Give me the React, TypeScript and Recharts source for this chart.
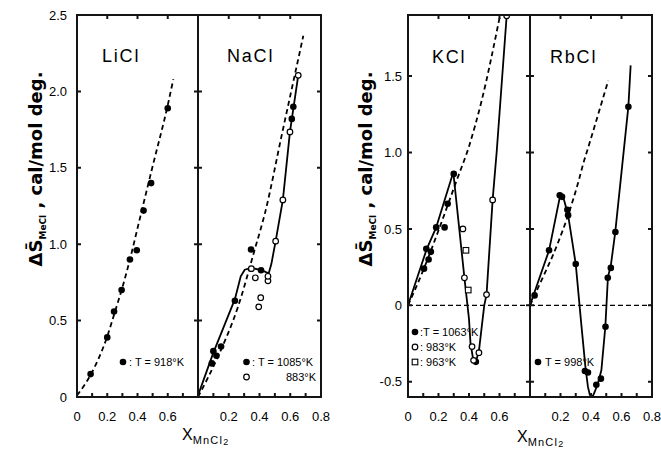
import React from 'react';
import { ComposedChart, Line, Scatter, XAxis, YAxis, ReferenceLine } from 'recharts';

type Pt = { x: number; y: number };
const pts = (a: number[][]): Pt[] => a.map(([x, y]) => ({ x, y }));

// axis ticks
const X_TICKS = [0, 0.1, 0.2, 0.3, 0.4, 0.5, 0.6, 0.7, 0.8];
const TOP_TICKS = [0.2, 0.4, 0.6];
const LEFT_Y_TICKS = [0, 0.5, 1, 1.5, 2, 2.5];
const RIGHT_Y_TICKS = [-0.5, 0, 0.5, 1, 1.5];
const FIRST_X_LABELS = [0, 0.2, 0.4, 0.6];
const SECOND_X_LABELS = [0.2, 0.4, 0.6, 0.8];

// LiCl, T = 918 K
const liclPoints = pts([[0.09, 0.15], [0.2, 0.39], [0.245, 0.56], [0.295, 0.7], [0.35, 0.9], [0.395, 0.96], [0.44, 1.22], [0.49, 1.4], [0.6, 1.89]]);
const liclDash = pts([[0, 0.01], [0.09, 0.145], [0.196, 0.385], [0.25, 0.555], [0.295, 0.7], [0.35, 0.9], [0.405, 1.125], [0.5, 1.51], [0.6, 1.91], [0.637, 2.08]]);

// NaCl, T = 1085 K (filled) and 883 K (open)
const naclFilled = pts([[0.09, 0.22], [0.1, 0.3], [0.12, 0.27], [0.15, 0.33], [0.24, 0.63], [0.345, 0.965], [0.41, 0.83], [0.61, 1.82], [0.62, 1.9]]);
const naclOpen = pts([[0.347, 0.84], [0.373, 0.78], [0.395, 0.59], [0.408, 0.65], [0.455, 0.76], [0.455, 0.79], [0.505, 1.02], [0.552, 1.29], [0.598, 1.735], [0.652, 2.105]]);
const naclSolid = pts([[0, 0.01], [0.1, 0.29], [0.24, 0.64], [0.278, 0.79], [0.304, 0.833], [0.347, 0.845], [0.412, 0.83], [0.46, 0.81], [0.477, 0.87], [0.505, 1.02], [0.552, 1.29], [0.598, 1.735], [0.652, 2.105]]);
const naclDash = pts([[0, 0], [0.13, 0.265], [0.26, 0.59], [0.369, 0.965], [0.436, 1.205], [0.548, 1.73], [0.685, 2.364]]);

// KCl, T = 1063 K (filled), 983 K (open), 963 K (square)
const kclFilled = pts([[0.105, 0.24], [0.12, 0.37], [0.135, 0.3], [0.15, 0.35], [0.185, 0.51], [0.24, 0.51], [0.26, 0.665], [0.3, 0.86], [0.445, -0.37]]);
const kclOpen = pts([[0.36, 0.5], [0.37, 0.18], [0.42, -0.27], [0.43, -0.36], [0.465, -0.31], [0.515, 0.07], [0.555, 0.69], [0.647, 1.895]]);
const kclSquare = pts([[0.38, 0.36], [0.395, 0.1]]);
const kclSolid = pts([[0, 0], [0.122, 0.366], [0.184, 0.508], [0.297, 0.871], [0.37, 0.18], [0.4, -0.09], [0.41, -0.25], [0.425, -0.34], [0.445, -0.37], [0.465, -0.3], [0.48, -0.17], [0.5, 0], [0.515, 0.07], [0.555, 0.69], [0.582, 1.01], [0.647, 1.895]]);
const kclDash = pts([[0, 0], [0.1, 0.23], [0.2, 0.49], [0.264, 0.665], [0.32, 0.82], [0.4, 1.04], [0.483, 1.34], [0.603, 1.895]]);

// RbCl, T = 998 K
const rbclFilled = pts([[0.03, 0.065], [0.125, 0.36], [0.195, 0.72], [0.21, 0.71], [0.245, 0.625], [0.25, 0.59], [0.3, 0.27], [0.36, -0.43], [0.38, -0.44], [0.435, -0.52], [0.465, -0.48], [0.495, -0.14], [0.51, 0.18], [0.53, 0.245], [0.56, 0.48], [0.645, 1.3]]);
const rbclSolid = pts([[0, 0], [0.125, 0.36], [0.2, 0.73], [0.215, 0.72], [0.25, 0.59], [0.3, 0.27], [0.336, -0.12], [0.363, -0.4], [0.38, -0.534], [0.392, -0.585], [0.402, -0.6], [0.414, -0.59], [0.424, -0.567], [0.446, -0.51], [0.468, -0.425], [0.494, -0.14], [0.511, 0.185], [0.53, 0.26], [0.559, 0.479], [0.645, 1.3], [0.66, 1.57]]);
const rbclDash = pts([[0, 0], [0.06, 0.13], [0.18, 0.4], [0.25, 0.59], [0.315, 0.8], [0.35, 0.93], [0.39, 1.06], [0.45, 1.26], [0.513, 1.47]]);

const INK = '#000';
const FRAME_INK = '#141414';
const SANS = '"Liberation Sans", Arial, sans-serif';
const TICK_LEN = 4;
const PLOT_TOP = 15;
const PLOT_BOTTOM = 397;
const X_MAX = 0.8;

const filledDot = (p: any) => <circle cx={p.cx} cy={p.cy} r={3.3} fill={INK} />;
const openDot = (p: any) => <circle cx={p.cx} cy={p.cy} r={2.8} fill="#fff" stroke={INK} strokeWidth={1.2} />;
const openSquare = (p: any) => (
  <rect x={p.cx - 2.8} y={p.cy - 2.8} width={5.6} height={5.6} fill="#fff" stroke={INK} strokeWidth={1.1} />
);

const fmtNum = (v: number) => (v === 0 ? '0' : v.toFixed(1));

interface PanelProps {
  left: number;
  width: number;
  ml: number;
  mr: number;
  yWidth: number;
  yDomain: [number, number];
  yTicks: number[];
  yLabels: boolean;
  yGap: number;
  xLabels: number[];
  zero?: boolean;
  dash: Pt[];
  solid?: Pt[];
  filled: Pt[];
  open?: Pt[];
  square?: Pt[];
}

function Panel(props: PanelProps) {
  const { left, width, ml, mr, yWidth, yDomain, yTicks, yLabels, yGap, xLabels, zero, dash, solid, filled, open, square } = props;
  const frame = { stroke: FRAME_INK, strokeWidth: 2 };

  const xTick = (p: any) => {
    const v = p.payload.value;
    const show = xLabels.some(l => Math.abs(l - v) < 1e-6);
    return show ? (
      <text x={p.x} y={p.y + 24} textAnchor="middle" fontFamily={SANS} fontSize={13} fill={INK}>
        {fmtNum(v)}
      </text>
    ) : <g />;
  };

  return (
    <div style={{ position: 'absolute', left, top: 0 }}>
      <ComposedChart width={width} height={451} margin={{ top: PLOT_TOP, right: mr, bottom: 24, left: ml }}>
        <XAxis dataKey="x" type="number" domain={[0, X_MAX]} ticks={X_TICKS} interval={0} allowDataOverflow
          height={30} tickSize={0} tickMargin={0} tick={xTick} axisLine={frame} tickLine={false} />
        <YAxis dataKey="y" type="number" domain={yDomain} ticks={yTicks} interval={0} allowDataOverflow
          width={yWidth} tickSize={0} tickMargin={yGap} tickFormatter={fmtNum}
          tick={yLabels ? { fontSize: 13, fill: INK, fontFamily: SANS } : false}
          axisLine={frame} tickLine={false} />
        {zero && <ReferenceLine y={0} stroke={INK} strokeWidth={1.2} strokeDasharray="5 3" />}
        <Line data={dash} dataKey="y" type="monotone" stroke={INK} strokeWidth={1.8}
          strokeDasharray="5 3.5" dot={false} activeDot={false} isAnimationActive={false} />
        {solid && (
          <Line data={solid} dataKey="y" type="linear" stroke={INK} strokeWidth={1.8}
            dot={false} activeDot={false} isAnimationActive={false} />
        )}
        <Scatter data={filled} dataKey="y" shape={filledDot} isAnimationActive={false} />
        {open && <Scatter data={open} dataKey="y" shape={openDot} isAnimationActive={false} />}
        {square && <Scatter data={square} dataKey="y" shape={openSquare} isAnimationActive={false} />}
      </ComposedChart>
    </div>
  );
}

// box round a panel with inward ticks, one path, same plot rectangle as the chart
function Frame({ l, r, yDomain, yTicks }: { l: number; r: number; yDomain: [number, number]; yTicks: number[] }) {
  const sx = (v: number) => l + (v / X_MAX) * (r - l);
  const sy = (v: number) =>
    PLOT_BOTTOM - ((v - yDomain[0]) / (yDomain[1] - yDomain[0])) * (PLOT_BOTTOM - PLOT_TOP);
  let d = `M${l},${PLOT_TOP}H${r}V${PLOT_BOTTOM}H${l}Z`;
  TOP_TICKS.forEach(t => { d += `M${sx(t)},${PLOT_TOP}v${TICK_LEN}`; });
  X_TICKS.forEach(t => { d += `M${sx(t)},${PLOT_BOTTOM}v${-TICK_LEN}`; });
  yTicks.forEach(t => { d += `M${l},${sy(t)}h${TICK_LEN}M${r},${sy(t)}h${-TICK_LEN}`; });
  return <path d={d} stroke={FRAME_INK} strokeWidth={2} fill="none" />;
}

function YLabel({ x }: { x: number }) {
  return (
    <text transform={`translate(${x},169) rotate(-90)`} textAnchor="middle"
      fontFamily='"DejaVu Sans", sans-serif' fontWeight="bold" fontSize={18} fill={INK}>
      {'\u0394S\u0304'}
      <tspan fontSize={9} dy={4}>MeCl</tspan>
      <tspan dy={-4}>{' , cal/mol deg.'}</tspan>
    </text>
  );
}

function XLabel({ x, y }: { x: number; y: number }) {
  return (
    <text x={x} y={y} fontFamily={SANS} fontSize={16} fill={INK}>
      X
      <tspan fontSize={11} dy={4} letterSpacing={1.2}>MnCl</tspan>
      <tspan fontSize={9} dy={1}>2</tspan>
    </text>
  );
}

function Overlay() {
  const title = { fontFamily: SANS, fontSize: 18, fill: INK, letterSpacing: 1.8 };
  const leg = { fontFamily: SANS, fontSize: 11, fill: INK };
  return (
    <svg width={661} height={451} style={{ position: 'absolute', left: 0, top: 0, pointerEvents: 'none' }}>
      <Frame l={77} r={198} yDomain={[0, 2.5]} yTicks={LEFT_Y_TICKS} />
      <Frame l={198} r={321} yDomain={[0, 2.5]} yTicks={LEFT_Y_TICKS} />
      <Frame l={408} r={530} yDomain={[-0.6, 1.9]} yTicks={RIGHT_Y_TICKS} />
      <Frame l={530} r={652} yDomain={[-0.6, 1.9]} yTicks={RIGHT_Y_TICKS} />

      <YLabel x={42} />
      <YLabel x={372} />
      <XLabel x={182} y={440} />
      <XLabel x={517} y={442} />

      <text x={102} y={62} {...title}>LiCl</text>
      <text x={227} y={62} {...title}>NaCl</text>
      <text x={432} y={63} {...title}>KCl</text>
      <text x={550} y={63} {...title}>RbCl</text>

      {/* legend keys */}
      <circle cx={123} cy={362} r={3.3} fill={INK} />
      <text x={129} y={366} {...leg}>: T = 918°K</text>

      <circle cx={246.5} cy={362} r={3.3} fill={INK} />
      <text x={252} y={366} {...leg}>: T = 1085°K</text>
      <circle cx={246.5} cy={377} r={2.8} fill="#fff" stroke={INK} strokeWidth={1.2} />
      <text x={316} y={381} textAnchor="end" {...leg}>883°K</text>

      <circle cx={415} cy={332} r={3.3} fill={INK} />
      <text x={420} y={336} {...leg}>:T = 1063°K</text>
      <circle cx={415} cy={347} r={2.8} fill="#fff" stroke={INK} strokeWidth={1.2} />
      <text x={420} y={351} {...leg}>:  983°K</text>
      <rect x={412.2} y={359.2} width={5.6} height={5.6} fill="#fff" stroke={INK} strokeWidth={1.1} />
      <text x={420} y={366} {...leg}>:  963°K</text>

      <circle cx={538} cy={362} r={3.3} fill={INK} />
      <text x={545} y={366} {...leg}>T = 998°K</text>
    </svg>
  );
}

export default function App() {
  return (
    <div style={{ position: 'absolute', left: 0, top: 0, width: 661, height: 451, background: '#fff' }}>
      <Panel left={0} width={218} ml={0} mr={20} yWidth={77} yDomain={[0, 2.5]} yTicks={LEFT_Y_TICKS}
        yLabels yGap={10} xLabels={FIRST_X_LABELS} dash={liclDash} filled={liclPoints} />
      <Panel left={178} width={163} ml={19} mr={20} yWidth={1} yDomain={[0, 2.5]} yTicks={LEFT_Y_TICKS}
        yLabels={false} yGap={0} xLabels={SECOND_X_LABELS} dash={naclDash} solid={naclSolid}
        filled={naclFilled} open={naclOpen} />
      <Panel left={330} width={220} ml={0} mr={20} yWidth={78} yDomain={[-0.6, 1.9]} yTicks={RIGHT_Y_TICKS}
        yLabels yGap={6} xLabels={FIRST_X_LABELS} zero dash={kclDash} solid={kclSolid}
        filled={kclFilled} open={kclOpen} square={kclSquare} />
      <Panel left={510} width={151} ml={19} mr={9} yWidth={1} yDomain={[-0.6, 1.9]} yTicks={RIGHT_Y_TICKS}
        yLabels={false} yGap={0} xLabels={SECOND_X_LABELS} zero dash={rbclDash} solid={rbclSolid}
        filled={rbclFilled} />
      <Overlay />
    </div>
  );
}
